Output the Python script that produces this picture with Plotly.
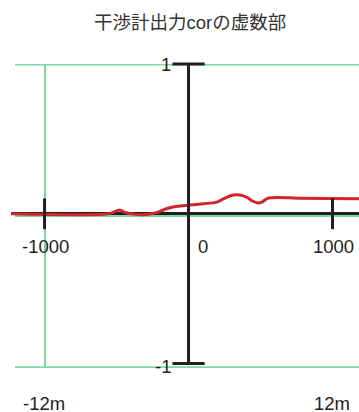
import plotly.graph_objects as go

# ---- data ----
title_text = "干渉計出力corの虚数部"
line_x = [-1233, -559, -503, -476, -441, -385, -316, -267, -219, -149, -80, 10, 101, 198,
          253, 302, 358, 406, 441, 476, 510, 552, 774, 1184]
line_y = [0.0, 0.0, 0.017, 0.025, 0.009, -0.002, -0.006, -0.002, 0.009, 0.035, 0.050, 0.058,
          0.067, 0.078, 0.105, 0.124, 0.125, 0.109, 0.087, 0.073, 0.078, 0.104, 0.104, 0.100]
x_ticks = [-1000, 1000]
x_tick_labels = ["-1000", "0", "1000"]
x_tick_label_vals = [-1000, 0, 1000]
y_ticks = [-1, 1]
y_tick_labels = ["-1", "1"]
bottom_tick_vals = [-1000, 1000]
bottom_tick_labels = ["-12m", "12m"]
grid_y_vals = [-1, 0, 1]
grid_x_vals = [-1000]

W, H = 359, 412
ML, MR, MT, MB = 11, 0, 64, 44
plot_w = W - ML - MR
plot_h = H - MT - MB

GREEN = "#7dd8a2"
BLACK = "#231f20"
RED = "#d3242b"
FONT = "Liberation Sans, Arial, Noto Sans CJK JP, sans-serif"
FS = 18.5

x2_range = [-1233, 1184]
scale = plot_w / (x2_range[1] - x2_range[0])
x1_range = [x2_range[0] + 4 / scale, x2_range[1]]
y1_range = [-1.005, 1.004]

fig = go.Figure()

# keeps the grid subplot (x, y) alive
fig.add_trace(go.Scatter(x=[None], y=[None], mode="lines", xaxis="x", yaxis="y",
                         hoverinfo="skip", showlegend=False))
# data subplot (x2, y2)
fig.add_trace(go.Scatter(x=line_x, y=line_y, mode="lines", xaxis="x2", yaxis="y2",
                         line=dict(color=RED, width=3, shape="spline", smoothing=0.8),
                         hoverinfo="skip", showlegend=False))
# vertical black axis
fig.add_trace(go.Scatter(x=[0, 0], y=[min(y_ticks), max(y_ticks)], mode="lines",
                         xaxis="x2", yaxis="y2", line=dict(color=BLACK, width=3),
                         hoverinfo="skip", showlegend=False))
# x ticks
fig.add_trace(go.Scatter(x=x_ticks, y=[0] * len(x_ticks), mode="markers", xaxis="x2", yaxis="y2",
                         marker=dict(symbol="line-ns", size=22, line=dict(color=BLACK, width=3)),
                         hoverinfo="skip", showlegend=False, cliponaxis=False))
# y ticks
fig.add_trace(go.Scatter(x=[0] * len(y_ticks), y=y_ticks, mode="markers", xaxis="x2", yaxis="y2",
                         marker=dict(symbol="line-ew", size=23, line=dict(color=BLACK, width=3)),
                         hoverinfo="skip", showlegend=False, cliponaxis=False))

# horizontal green grid lines as shapes on the grid subplot
shapes = [dict(type="line", xref="x domain", yref="y", x0=0, x1=1, y0=v, y1=v,
               line=dict(color=GREEN, width=2), layer="below") for v in grid_y_vals]

annotations = []
for v, t in zip(x_tick_label_vals, x_tick_labels):
    annotations.append(dict(x=v, y=0, xref="x2", yref="y2", text=t, showarrow=False,
                            xshift=(14 if v == 0 else 1), yshift=-32.5,
                            font=dict(family=FONT, size=FS, color=BLACK)))
for v, t in zip(y_ticks, y_tick_labels):
    annotations.append(dict(x=0, y=v, xref="x2", yref="y2", text=t, showarrow=False,
                            xanchor="right", xshift=-16, yshift=(-3 if v < 0 else 0),
                            font=dict(family=FONT, size=FS, color=BLACK)))
for v, t in zip(bottom_tick_vals, bottom_tick_labels):
    annotations.append(dict(x=v, y=0, xref="x2", yref="paper", text=t, showarrow=False,
                            xshift=-0.5, yshift=-48,
                            font=dict(family=FONT, size=FS, color=BLACK)))
annotations.append(dict(x=(189.5 - ML) / plot_w, y=(H - MB - 22) / plot_h, xref="paper",
                        yref="paper", text=title_text, showarrow=False, xanchor="center",
                        yanchor="middle", font=dict(family=FONT, size=FS, color="#333333")))

fig.update_layout(
    width=W, height=H,
    margin=dict(l=ML, r=MR, t=MT, b=MB),
    paper_bgcolor="white", plot_bgcolor="rgba(0,0,0,0)",
    showlegend=False,
    xaxis=dict(domain=[4 / plot_w, 1], range=x1_range, showgrid=True, gridcolor=GREEN,
               gridwidth=2, tickvals=grid_x_vals, showticklabels=False,
               zeroline=False, showline=False, ticks=""),
    yaxis=dict(range=y1_range, showgrid=False, showticklabels=False, zeroline=False,
               showline=False, ticks=""),
    xaxis2=dict(domain=[0, 1], range=x2_range, anchor="y2", showgrid=False, showticklabels=False,
                zeroline=False, showline=False, ticks=""),
    yaxis2=dict(domain=[0, 1], range=[-1.03, 1], anchor="x2", showgrid=False,
                showticklabels=False, zeroline=True, zerolinecolor=BLACK, zerolinewidth=3,
                showline=False, ticks=""),
    shapes=shapes,
    annotations=annotations,
)

fig.write_html("out.html")
